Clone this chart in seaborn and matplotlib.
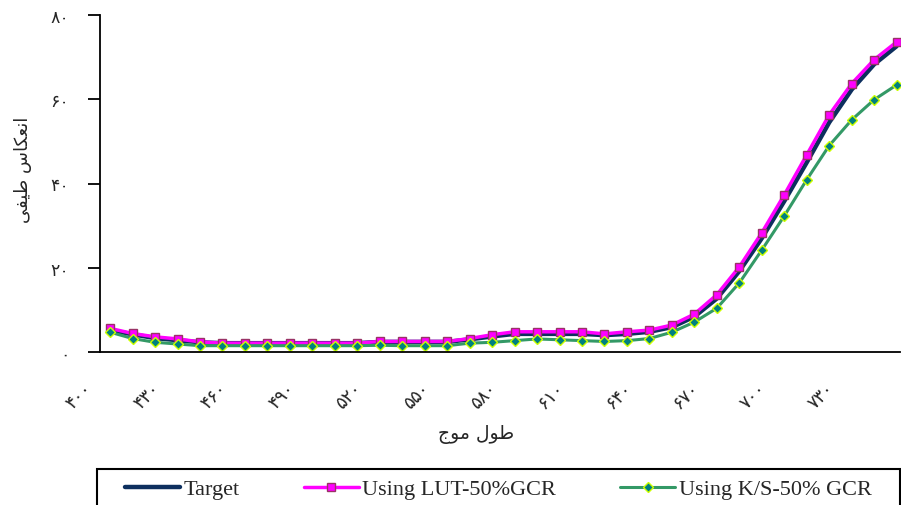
import matplotlib
matplotlib.use("Agg")
import matplotlib.pyplot as plt
from matplotlib.patches import Rectangle
from matplotlib.transforms import ScaledTranslation
import numpy as np
import pandas as pd
import seaborn as sns

# Wavelengths (nm), one category every 10 nm
wavelengths = list(range(400, 760, 10))

# Spectral reflectance (%) for each sample
target = [5.2, 4.2, 3.3, 2.8, 2.3, 2.1, 2.1, 2.1, 2.1, 2.1, 2.1, 2.1,
          2.4, 2.4, 2.4, 2.4, 3.0, 3.7, 4.3, 4.3, 4.3, 4.3, 4.0, 4.3,
          4.8, 5.9, 8.4, 12.7, 19.2, 27.0, 35.8, 45.0, 54.5, 62.3, 68.3, 72.6]
lut_gcr = [5.6, 4.4, 3.6, 3.1, 2.4, 2.1, 2.1, 2.1, 2.1, 2.1, 2.1, 2.1,
           2.5, 2.5, 2.5, 2.5, 3.2, 4.1, 4.8, 4.8, 4.8, 4.8, 4.3, 4.8,
           5.2, 6.4, 9.0, 13.6, 20.2, 28.3, 37.3, 46.8, 56.3, 63.7, 69.4, 73.6]
ks_gcr = [4.7, 3.2, 2.3, 1.9, 1.5, 1.5, 1.5, 1.5, 1.5, 1.5, 1.5, 1.5,
          1.6, 1.5, 1.5, 1.5, 2.1, 2.3, 2.7, 3.1, 2.9, 2.7, 2.5, 2.7,
          3.2, 4.7, 7.1, 10.4, 16.4, 24.2, 32.3, 40.9, 49.0, 55.1, 59.9, 63.4]

series_names = ["Target", "Using LUT-50%GCR", "Using K/S-50% GCR"]
y_ticks = [0, 20, 40, 60, 80]

PERSIAN = str.maketrans("0123456789", "۰۱۲۳۴۵۶۷۸۹")


def fa(num):
    return str(num).translate(PERSIAN)


# Axis titles in pre-shaped presentation forms, visual (left-to-right) order
x_title = "\uFE9D\uFEEE\uFEE3 \uFEDD\uFEEE\uFEC3"            # طول موج
y_title = "\uFBFD\uFED4\uFBFF\uFEC3 \uFEB1\uFE8E\uFB91\uFECC\uFEE7\uFE8D"  # انعکاس طیفی

sns.set_style("white")
plt.rcParams["font.family"] = ["DejaVu Sans"]

df = pd.DataFrame({
    "idx": np.arange(len(wavelengths)),
    "wl": wavelengths,
    series_names[0]: target,
    series_names[1]: lut_gcr,
    series_names[2]: ks_gcr,
})

W, H = 901, 506
fig = plt.figure(figsize=(W / 100, H / 100), dpi=100)
ax = fig.add_axes([100 / W, 1 - 353 / H, 800 / W, 337 / H])

sns.lineplot(data=df, x="idx", y=series_names[0], ax=ax, color="#0d2f5e",
             linewidth=3.2, label=series_names[0], clip_on=False)
sns.lineplot(data=df, x="idx", y=series_names[1], ax=ax, color="#ff00ff",
             linewidth=2.5, marker="s", markersize=6.3,
             markerfacecolor="#ff00ff", markeredgecolor="#993366",
             markeredgewidth=1.0, label=series_names[1], clip_on=False)
sns.lineplot(data=df, x="idx", y=series_names[2], ax=ax, color="#339966",
             linewidth=2.2, marker="D", markersize=5.5,
             markerfacecolor="#008080", markeredgecolor="#ccff00",
             markeredgewidth=1.0, label=series_names[2], clip_on=False)

ax.set_xlim(-0.45, 35.15)
ax.set_ylim(0, 80)
ax.set_yticks(y_ticks)
ax.set_yticklabels([fa(v) for v in y_ticks], fontsize=12.5)

# Category labels every third wavelength, slanted and set just left of each category
tick_idx = list(range(0, len(wavelengths), 3))
ax.set_xticks(tick_idx)
ax.set_xticklabels([])
shift = ScaledTranslation(-27 / 100, -27 / 100, fig.dpi_scale_trans)
for i in tick_idx:
    ax.text(i, 0, fa(wavelengths[i]), fontsize=13, rotation=45,
            ha="right", va="top", rotation_mode="anchor",
            transform=ax.get_xaxis_transform() + shift)

ax.tick_params(axis="x", length=0, pad=0)
ax.tick_params(axis="y", direction="out", length=9, width=1.3, pad=13,
               color="black", left=True)
for side in ("top", "right"):
    ax.spines[side].set_visible(False)
for side in ("left", "bottom"):
    ax.spines[side].set_color("black")
    ax.spines[side].set_linewidth(1.3)

ax.set_xlabel(x_title, fontsize=13.5, labelpad=0)
ax.xaxis.set_label_coords(0.47, -0.215)
ax.set_ylabel(y_title, fontsize=13, labelpad=0)
ax.yaxis.set_label_coords(-0.085, 0.543)

handles, labels = ax.get_legend_handles_labels()
ax.get_legend().remove()

# Legend frame running off the bottom edge of the figure
fig.patches.append(Rectangle((97 / W, 1 - 512 / H), 803 / W, 42 / H,
                             transform=fig.transFigure, fill=False,
                             edgecolor="black", linewidth=1.5))
leg = fig.legend(handles, labels, ncol=3,
                 loc="center left",
                 bbox_to_anchor=(125 / W, 1 - 490 / H),
                 prop={"family": "Liberation Serif", "size": 16},
                 frameon=False, handlelength=2.48, handletextpad=0.14,
                 columnspacing=2.9, borderpad=0.0, borderaxespad=0)

fig.savefig("out.png", dpi=100)
